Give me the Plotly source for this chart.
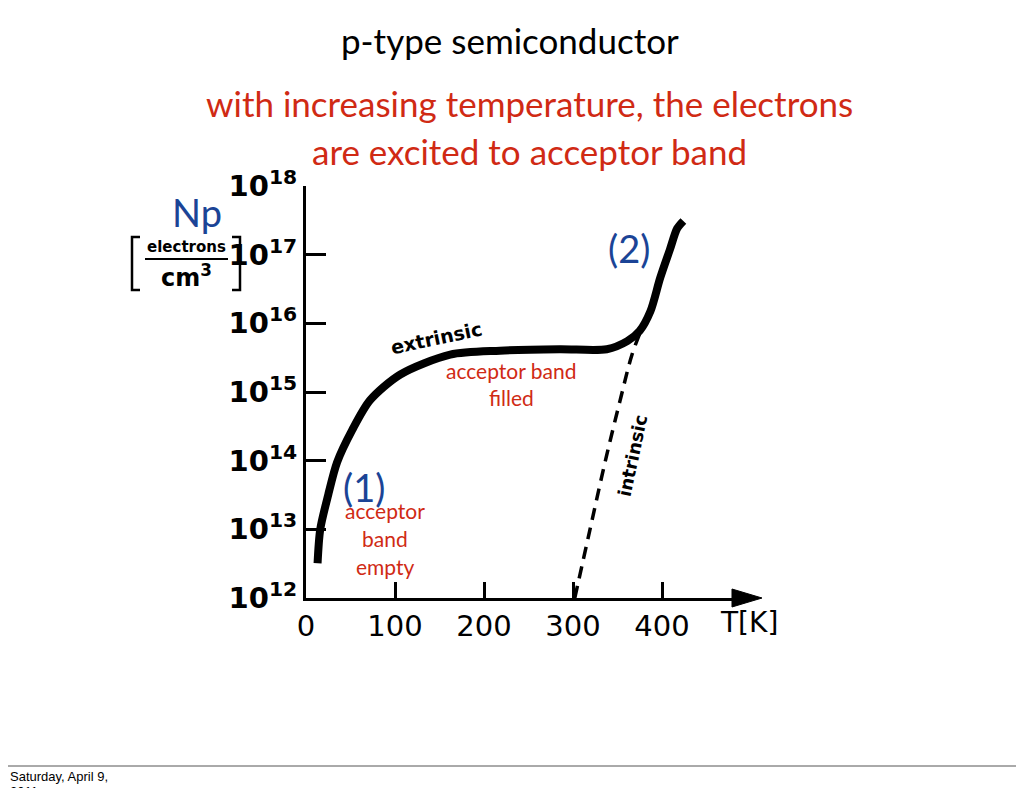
import plotly.graph_objects as go

# ---- data ----
T_extrinsic = [13, 16, 25, 35, 52, 72, 106, 162, 218, 285, 338, 361, 375, 387, 398, 409, 417, 424]
N_extrinsic = [3.2e12, 1.0e13, 3.2e13, 9.5e13, 2.8e14, 7.6e14, 1.8e15, 3.5e15, 4.0e15, 4.2e15,
               4.2e15, 5.5e15, 7.8e15, 1.5e16, 4.6e16, 1.2e17, 2.4e17, 3.1e17]
T_intrinsic = [302, 319, 336, 353, 366, 375]
N_intrinsic = [1.0e12, 9.8e12, 9.5e13, 7.6e14, 3.4e15, 7.1e15]

x_tickvals = [0, 100, 200, 300, 400]
x_ticktext = ["0", "100", "200", "300", "400"]
y_exponents = [12, 13, 14, 15, 16, 17, 18]
y_tickvals = [10.0 ** e for e in y_exponents]
y_ticktext = ["<b>10<sup>%d</sup></b>" % e for e in y_exponents]

W, H = 1024, 788
OFF = 8  # page body margin
RED = "#d02a14"
BLUE = "#1b4496"
SANS = "Lato, 'Open Sans', sans-serif"


def px(x):
    return (x - OFF) / W


def py(y):
    return 1 - (y - OFF) / H


fig = go.Figure()
fig.add_trace(go.Scatter(x=T_extrinsic, y=N_extrinsic, mode="lines",
                         line=dict(color="black", width=8, shape="spline", smoothing=0.8),
                         hoverinfo="skip", showlegend=False))
fig.add_trace(go.Scatter(x=T_intrinsic, y=N_intrinsic, mode="lines",
                         line=dict(color="black", width=3.5, dash="12px,8px", shape="spline"),
                         hoverinfo="skip", showlegend=False))

x0_px, x_scale = 306, 0.89
x_max = 490
y_top_px, y_bot_px = 186, 598

fig.update_layout(
    template="none",
    width=W, height=H,
    margin=dict(l=0, r=0, t=0, b=0, pad=0, autoexpand=False),
    paper_bgcolor="white", plot_bgcolor="white",
    showlegend=False,
    xaxis=dict(domain=[px(x0_px), px(x0_px + x_scale * x_max)], range=[0, x_max], automargin=False,
               showgrid=False, zeroline=False, showline=True, linecolor="black", linewidth=3,
               ticks="inside", ticklen=16, tickwidth=2.5, tickcolor="black",
               tickvals=x_tickvals, ticktext=x_ticktext,
               tickfont=dict(family="DejaVu Sans", size=29, color="black")),
    yaxis=dict(domain=[py(y_bot_px), py(y_top_px)], type="log", range=[12, 18], automargin=False,
               showgrid=False, zeroline=False, showline=True, linecolor="black", linewidth=3,
               ticks="inside", ticklen=20, tickwidth=2.5, tickcolor="black",
               tickvals=y_tickvals, ticktext=y_ticktext,
               tickfont=dict(family="DejaVu Sans", size=29, color="black")),
)

shapes = []
# arrowhead on x axis
shapes.append(dict(type="path", xref="paper", yref="paper",
                   path="M %f %f L %f %f L %f %f Z" % (px(732), py(589), px(762), py(598),
                                                        px(732), py(607)),
                   fillcolor="black", line=dict(color="black", width=1)))
# bracket for units
for (xa, xb) in [(140, 132), (232, 240)]:
    shapes.append(dict(type="path", xref="paper", yref="paper",
                       path="M %f %f L %f %f L %f %f L %f %f" % (px(xa), py(237), px(xb), py(237),
                                                                px(xb), py(290), px(xa), py(290)),
                       line=dict(color="black", width=2.5)))
shapes.append(dict(type="line", xref="paper", yref="paper", x0=px(145), x1=px(228), y0=py(259), y1=py(259),
                   line=dict(color="black", width=2)))
# slide frame line
shapes.append(dict(type="line", xref="paper", yref="paper", x0=0, x1=1, y0=py(766), y1=py(766),
                   line=dict(color="#555555", width=1)))
fig.update_layout(shapes=shapes)


def ann(text, x, y, size, color, family=SANS, angle=0, xanchor="center"):
    fig.add_annotation(text=text, x=px(x), y=py(y), xref="paper", yref="paper", showarrow=False,
                       xanchor=xanchor, yanchor="middle", textangle=angle,
                       font=dict(family=family, size=size, color=color))


ann("p-type semiconductor", 510, 40, 35, "black")
ann("with increasing temperature, the electrons", 529, 103, 35, RED)
ann("are excited to acceptor band", 529, 151, 35, RED)
ann("Np", 197, 212, 38, BLUE)
ann("<b>electrons</b>", 186, 247, 15, "black", family="DejaVu Sans")
ann("<b>cm<sup>3</sup></b>", 186, 276, 24, "black", family="DejaVu Sans")
ann("<b>extrinsic</b>", 436, 338, 19, "black", family="DejaVu Sans", angle=-12)
ann("<b>intrinsic</b>", 632, 456, 18, "black", family="DejaVu Sans", angle=-78)
ann("T[K]", 749, 622, 28, "black", family="DejaVu Sans")
ann("(1)", 364, 487, 38, BLUE)
ann("acceptor", 385, 510, 21, RED)
ann("band", 385, 538, 21, RED)
ann("empty", 385, 566, 21, RED)
ann("acceptor band", 511, 370, 21, RED)
ann("filled", 511, 397, 21, RED)
ann("(2)", 629, 248, 38, BLUE)
ann("Saturday, April 9,", 8, 776, 13, "black", family="Liberation Sans", xanchor="left")
ann("2011", 8, 791, 13, "black", family="Liberation Sans", xanchor="left")

fig.write_html("out.html")
